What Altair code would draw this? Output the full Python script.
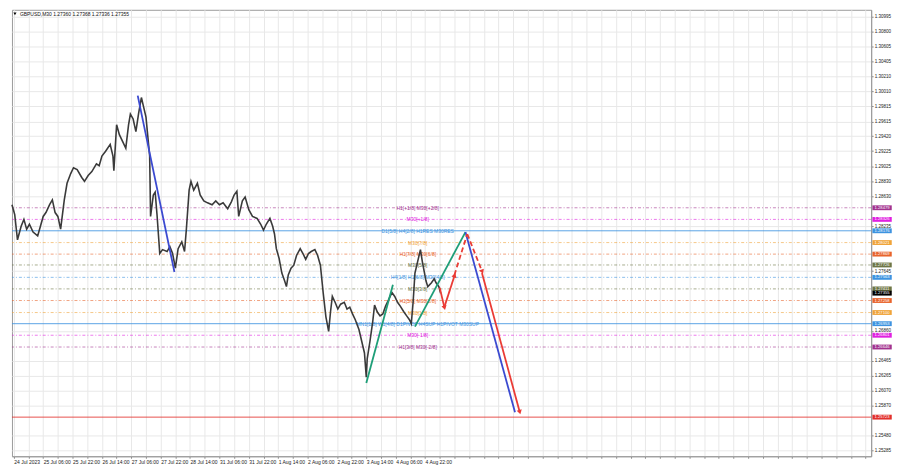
import math
import altair as alt
import pandas as pd

W, H = 866, 450
BAR_MAX = 936
P_TOP, P_BOT = 1.31085, 1.25208
FONT = "Liberation Sans"

# ---- price path (bar index, close) ----
bars = [0,3,6,10,13,16,19,23,28,31,34,37,41,44,47,50,53,57,60,64,67,71,76,79,83,87,92,95,98,102,
        107,110,111,114,117,121,124,127,129,132,135,138,141,143,146,148,150,151,154,156,158,161,164,169,172,175,178,181,185,188,
        190,193,195,198,202,205,209,213,218,222,226,230,235,239,242,245,247,251,254,258,262,267,271,274,277,281,284,286,288,291,
        294,297,299,301,304,307,310,314,317,320,323,326,330,333,336,339,342,345,347,349,352,355,358,362,365,368,371,374,378,381,
        384,386,387,390,393,395,398,401,404,407,411,414,417,420,423,427,430,433,435,437,439,442,445,447,449,451,453,457,460,462,
        465,467]
closes = [1.28519,1.28390,1.28057,1.28236,1.28326,1.28198,1.28262,1.28159,1.28108,1.28236,
          1.28365,1.28416,1.28519,1.28583,1.28416,1.28365,1.28198,1.28583,1.28801,1.28929,
          1.29006,1.28981,1.28878,1.28827,1.28904,1.28955,1.29058,1.29032,1.29160,1.29224,
          1.29314,1.29160,1.28968,1.29571,1.29442,1.29340,1.29263,1.29571,1.29712,1.29648,
          1.29481,1.29725,1.29930,1.29827,1.29673,1.29417,1.29160,1.28365,1.28647,1.28685,
          1.28390,1.27877,1.27928,1.27903,1.27967,1.27877,1.27685,1.27941,1.28031,1.27903,
          1.28198,1.28711,1.28827,1.28711,1.28801,1.28647,1.28570,1.28544,1.28519,1.28570,
          1.28519,1.28544,1.28467,1.28557,1.28647,1.28698,1.28365,1.28570,1.28621,1.28454,
          1.28365,1.28339,1.28262,1.28185,1.28262,1.28339,1.28236,1.28134,1.27941,1.27813,
          1.27620,1.27518,1.27441,1.27595,1.27685,1.27723,1.27851,1.27941,1.27877,1.27800,
          1.27877,1.27903,1.27928,1.27851,1.27723,1.27364,1.27043,1.26851,1.27107,1.27312,
          1.27235,1.27146,1.27210,1.27235,1.27146,1.27171,1.27082,1.27005,1.26876,1.26722,
          1.26568,1.26250,1.26491,1.26722,1.26979,1.27197,1.27107,1.27056,1.27082,1.27184,
          1.27287,1.27364,1.27312,1.27235,1.27184,1.27107,1.27056,1.27005,1.26953,1.27235,
          1.27620,1.27774,1.27928,1.27774,1.27646,1.27518,1.27441,1.27492,1.27543,1.27492,
          1.27441,1.27355]

# ---- axes ----
y_ticks = [1.30995,1.30800,1.30605,1.30405,1.30210,1.30010,1.29815,1.29615,1.29420,1.29225,
           1.29025,1.28830,1.28630,1.28235,1.27645,1.26860,
           1.26465,1.26265,1.26070,1.25870,1.25480,1.25285]
time_labels = ["24 Jul 2023","25 Jul 06:00","25 Jul 22:00","26 Jul 14:00","27 Jul 06:00",
               "27 Jul 22:00","28 Jul 14:00","31 Jul 06:00","31 Jul 22:00","1 Aug 14:00",
               "2 Aug 06:00","2 Aug 22:00","3 Aug 14:00","4 Aug 06:00","4 Aug 22:00"]
grid_bars = [2 + 16 * k for k in range(59)]

# ---- Murrey levels ----
level_prices = [1.28479,1.28326,1.28176,1.28021,1.27869,1.27726,1.27563,1.27411,1.27258,1.27100,1.26953,1.26801,1.26646]
level_colors = ["#a2338f","#e020e0","#3d93e0","#f0a43a","#e8642c","#6e7646","#3d93e0","#6e7646","#e8642c","#f0a43a","#3d93e0","#e020e0","#a2338f"]
level_solid = [False,False,True,False,False,False,False,False,False,False,True,False,False]
level_texts = ["H1[+1/8] M30[+2/8]","M30[+1/8]","D1[5/8] H4[2/8] H1RES M30RES","M30[7/8]",
               "H1[7/8] M30[6/8]","M30[5/8]","H4[1/8] H1[6/8] M30[4/8]","M30[3/8]",
               "H1[5/8] M30[2/8]","M30[1/8]","MN1[1/8] W1[4/8] D1PIVOT H4SUP H1PIVOT M30SUP",
               "M30[-1/8]","H1[3/8] M30[-2/8]"]
label_bar = 442
target_price = 1.25723
target_color = "#e2302c"
bid_price = 1.27355

# ---- drawn trend lines ----
seg_names = ["b1","g1","g2","b2","r1","r2","r3","r4","r5"]
seg_bar0 = [137,386,439,494,466,471,482,496,512]
seg_bar1 = [177,415,494,548,471,482,496,512,553]
seg_p0 = [1.29956,1.26171,1.26915,1.28159,1.27428,1.27171,1.27595,1.28134,1.27620]
seg_p1 = [1.27633,1.27467,1.28159,1.25786,1.27171,1.27582,1.28134,1.27646,1.25798]
seg_colors = ["#3b4ad0","#1e9e78","#1e9e78","#3b4ad0","#ea3b35","#ea3b35","#ea3b35","#ea3b35","#ea3b35"]
seg_dashed = [False,False,False,False,False,False,True,True,False]
seg_arrow = [False,False,False,False,True,True,False,True,True]

# ---------------- data frames ----------------
price_df = pd.DataFrame({"bar": bars, "price": closes})
lv = pd.DataFrame({"price": level_prices, "color": level_colors, "solid": level_solid,
                   "text": level_texts, "bar": label_bar})
lv_solid = pd.concat([lv[lv.solid][["price", "color"]],
                      pd.DataFrame({"price": [target_price], "color": [target_color]})])
lv_dash = lv[~lv.solid][["price", "color"]]

rows = []
for i, n in enumerate(seg_names):
    rows.append({"seg": n, "o": 0, "bar": seg_bar0[i], "price": seg_p0[i], "color": seg_colors[i], "dashed": seg_dashed[i]})
    rows.append({"seg": n, "o": 1, "bar": seg_bar1[i], "price": seg_p1[i], "color": seg_colors[i], "dashed": seg_dashed[i]})
seg_df = pd.DataFrame(rows)

sx = W / BAR_MAX
sy = H / (P_TOP - P_BOT)
arr = []
for i, n in enumerate(seg_names):
    if seg_arrow[i]:
        dx = (seg_bar1[i] - seg_bar0[i]) * sx
        dup = (seg_p1[i] - seg_p0[i]) * sy
        ang = math.degrees(math.atan2(dx, dup)) % 360
        arr.append({"bar": seg_bar1[i], "price": seg_p1[i], "ang": ang, "color": seg_colors[i]})
arr_df = pd.DataFrame(arr)

box_df = pd.DataFrame({
    "price": level_prices + [target_price, bid_price],
    "color": level_colors + [target_color, "#000000"],
})
box_df["label"] = box_df["price"].map(lambda v: f"{v:.5f}")

# ---------------- scales / axes ----------------
xsc = alt.Scale(domain=[0, BAR_MAX], nice=False, zero=False)
ysc = alt.Scale(domain=[P_BOT, P_TOP], nice=False, zero=False)
lab_arr = []
for t in time_labels:
    lab_arr += [t, ""]
label_js = "[" + ",".join("'" + s + "'" for s in lab_arr) + "]"
xax = alt.Axis(values=grid_bars, labelExpr=f"{label_js}[round((datum.value-2)/16)] || ''",
               grid=True, gridColor="#e8e8e8", tickSize=2, tickColor="#8a8a8a",
               domainColor="#9a9a9a", labelFontSize=5, labelFont=FONT, labelColor="#222222",
               labelAlign="left", labelPadding=1, labelOverlap=False, labelFlush=False,
               labelBound=False, title=None)
yax = alt.Axis(orient="right", values=y_ticks, format=".5f", grid=True, gridColor="#e8e8e8",
               tickSize=2, tickColor="#8a8a8a", domainColor="#9a9a9a", labelFontSize=4.6,
               labelFont=FONT, labelColor="#222222", labelPadding=1, labelOverlap=False,
               labelFlush=False, title=None)


def X(f="bar"):
    return alt.X(f"{f}:Q", scale=xsc, axis=xax)


def Y(f="price"):
    return alt.Y(f"{f}:Q", scale=ysc, axis=yax)


price_line = alt.Chart(price_df).mark_line(color="#3a3a3a", strokeWidth=1.6).encode(x=X(), y=Y())

lv_solid_layer = alt.Chart(lv_solid).mark_rule(strokeWidth=1, opacity=0.85).encode(
    y=Y(), color=alt.Color("color:N", scale=None))
lv_dash_layer = alt.Chart(lv_dash).mark_rule(strokeWidth=0.8, strokeDash=[3, 2, 1, 2], opacity=0.75).encode(
    y=Y(), color=alt.Color("color:N", scale=None))
lv_text = alt.Chart(lv).mark_text(fontSize=5, font=FONT, align="center", baseline="middle").encode(
    x=X(), y=Y(), text="text:N", color=alt.Color("color:N", scale=None))

seg_solid = alt.Chart(seg_df[~seg_df.dashed]).mark_line(strokeWidth=1.8).encode(
    x=X(), y=Y(), detail="seg:N", order="o:Q", color=alt.Color("color:N", scale=None))
seg_dash = alt.Chart(seg_df[seg_df.dashed]).mark_line(strokeWidth=1.8, strokeDash=[5, 3]).encode(
    x=X(), y=Y(), detail="seg:N", order="o:Q", color=alt.Color("color:N", scale=None))
arrows = alt.Chart(arr_df).mark_point(shape="triangle", filled=True, size=28, opacity=1).encode(
    x=X(), y=Y(), angle=alt.Angle("ang:Q", scale=None), color=alt.Color("color:N", scale=None))

BOX = "M-1,-0.25L1,-0.25L1,0.25L-1,0.25Z"
boxes = alt.Chart(box_df).mark_point(shape=BOX, filled=True, size=380, opacity=1, strokeWidth=0).encode(
    x=alt.value(W + 11), y=Y(), color=alt.Color("color:N", scale=None))
box_text = alt.Chart(box_df).mark_text(fontSize=4.2, font=FONT, color="white", align="center",
                                        baseline="middle").encode(
    x=alt.value(W + 11), y=Y(), text="label:N")

hdr_tri = alt.Chart(pd.DataFrame({"a": [0]})).mark_point(shape="triangle-down", filled=True, size=10,
                                                           color="#000000", opacity=1).encode(
    x=alt.value(3), y=alt.value(4))
hdr_text = alt.Chart(pd.DataFrame({"t": ["GBPUSD,M30  1.27360 1.27368 1.27336 1.27355"]})).mark_text(
    fontSize=5, font=FONT, align="left", baseline="middle", color="#111111").encode(
    x=alt.value(8), y=alt.value(4.5), text="t:N")

chart = alt.layer(
    lv_dash_layer, lv_solid_layer, lv_text, price_line, seg_solid, seg_dash, arrows,
    boxes, box_text, hdr_tri, hdr_text
).properties(
    width=W, height=H, padding={"left": 0, "top": 0, "right": 0, "bottom": 0}, background="white"
).configure_view(stroke="#9a9a9a", strokeWidth=1)

chart.save("out.html", embed_options={"renderer": "svg", "actions": False})
